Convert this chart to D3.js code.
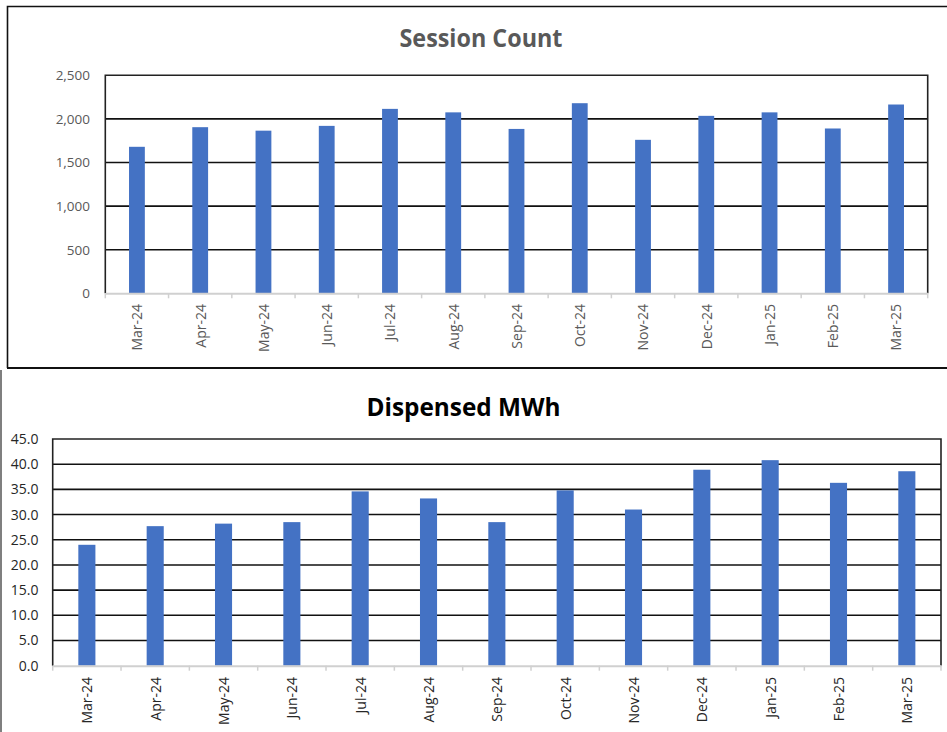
<!DOCTYPE html>
<html>
<head>
<meta charset="utf-8">
<script src="https://cdn.jsdelivr.net/npm/d3@7"></script>
<style>
  body { margin: 0; background: #fff; }
  svg { display: block; }
</style>
</head>
<body>
<svg id="chart" width="947" height="732"></svg>
<script>
// Monthly categories shared by both panels
const months = ["Mar-24", "Apr-24", "May-24", "Jun-24", "Jul-24", "Aug-24", "Sep-24",
                "Oct-24", "Nov-24", "Dec-24", "Jan-25", "Feb-25", "Mar-25"];

// Charging sessions per month
const sessionCounts = [1680, 1905, 1865, 1920, 2115, 2075, 1885, 2180, 1760, 2035, 2075, 1890, 2165];

// Energy dispensed per month (MWh)
const dispensedMWh = [24.0, 27.7, 28.2, 28.5, 34.6, 33.2, 28.5, 34.8, 31.0, 38.9, 40.8, 36.3, 38.6];

// Value-axis tick labels
const sessionTicks = [0, 500, 1000, 1500, 2000, 2500];
const mwhTicks = [0, 5, 10, 15, 20, 25, 30, 35, 40, 45];

const BAR_BLUE = "#4472C4";
const FONT = "'Open Sans', 'Noto Sans', sans-serif";

const svg = d3.select("#chart");

// Frames around the two panels
const frames = svg.append("g").attr("class", "frames");
frames.append("path")
  .attr("d", "M947,6.5 H7.5 V368")
  .attr("fill", "none").attr("stroke", "#111").attr("stroke-width", 1.6);
frames.append("line")
  .attr("x1", 7).attr("x2", 947).attr("y1", 368).attr("y2", 368)
  .attr("stroke", "#111").attr("stroke-width", 2.2);
frames.append("line")
  .attr("x1", 1).attr("x2", 1).attr("y1", 370).attr("y2", 732)
  .attr("stroke", "#7f7f7f").attr("stroke-width", 2);

function drawPanel(cfg) {
  const g = svg.append("g").attr("class", cfg.name);

  const x = d3.scaleBand()
    .domain(months)
    .range([cfg.left, cfg.right])
    .paddingInner(0).paddingOuter(0);

  const y = d3.scaleLinear()
    .domain([0, d3.max(cfg.ticks)])
    .range([cfg.bottom, cfg.top]);

  // Title
  g.append("text")
    .attr("x", cfg.titleX).attr("y", cfg.titleY)
    .attr("text-anchor", "middle")
    .attr("font-family", FONT)
    .attr("font-weight", 700)
    .attr("font-size", cfg.titleSize)
    .attr("fill", cfg.titleColor)
    .attr("textLength", cfg.titleWidth)
    .attr("lengthAdjust", "spacingAndGlyphs")
    .text(cfg.title);

  // Horizontal gridlines
  g.append("g").selectAll("line")
    .data(cfg.ticks.filter(t => t > 0 && t < d3.max(cfg.ticks)))
    .join("line")
      .attr("x1", cfg.left).attr("x2", cfg.right)
      .attr("y1", d => y(d)).attr("y2", d => y(d))
      .attr("stroke", "#111").attr("stroke-width", 1.6);

  // Bars
  const barW = x.bandwidth() * 0.25;
  g.append("g").selectAll("rect")
    .data(cfg.values)
    .join("rect")
      .attr("x", (d, i) => x(months[i]) + (x.bandwidth() - barW) / 2)
      .attr("y", d => y(d))
      .attr("width", barW)
      .attr("height", d => y(0) - y(d))
      .attr("fill", BAR_BLUE);

  // Plot frame: top and right borders, value axis line
  g.append("path")
    .attr("d", `M${cfg.left},${cfg.bottom} V${cfg.top} H${cfg.right} V${cfg.bottom}`)
    .attr("fill", "none").attr("stroke", "#222").attr("stroke-width", 1.6);

  // Category axis (light grey with dividing ticks)
  const xAxis = d3.axisBottom(x).tickSize(0).tickFormat("");
  const xg = g.append("g")
    .attr("transform", `translate(0,${cfg.bottom})`)
    .call(xAxis);
  xg.select(".domain").attr("stroke", "#d0d0d0").attr("stroke-width", 2);
  xg.selectAll(".tick").remove();
  const bounds = months.map(m => x(m)).concat([cfg.right]);
  xg.selectAll("line.div")
    .data(bounds)
    .join("line")
      .attr("class", "div")
      .attr("x1", d => d).attr("x2", d => d)
      .attr("y1", 0).attr("y2", 5)
      .attr("stroke", "#d0d0d0").attr("stroke-width", 1.5);

  // Rotated category labels
  g.append("g").selectAll("text")
    .data(months)
    .join("text")
      .attr("transform", d => `translate(${x(d) + x.bandwidth() / 2 + 0.5},${cfg.labelTop}) rotate(-90)`)
      .attr("text-anchor", "end")
      .attr("dy", "0.35em")
      .attr("font-family", FONT)
      .attr("font-size", cfg.xLabelSize)
      .attr("fill", cfg.labelColor)
      .text(d => d);

  // Value axis labels
  const yAxis = d3.axisLeft(y)
    .tickValues(cfg.ticks)
    .tickSize(0)
    .tickPadding(0)
    .tickFormat(cfg.format);
  const yg = g.append("g")
    .attr("transform", `translate(${cfg.yLabelRight},0)`)
    .call(yAxis);
  yg.select(".domain").remove();
  yg.selectAll("text")
    .attr("font-family", FONT)
    .attr("font-size", cfg.yLabelSize)
    .attr("fill", cfg.labelColor);
}

drawPanel({
  name: "sessions",
  title: "Session Count",
  titleX: 481, titleY: 46.5, titleSize: 25, titleWidth: 163, titleColor: "#595959",
  values: sessionCounts, ticks: sessionTicks,
  format: d3.format(","),
  left: 105.3, right: 927.7, top: 75.3, bottom: 293.3,
  labelTop: 304, labelColor: "#595959",
  xLabelSize: 14, yLabelSize: 13.5, yLabelRight: 90
});

drawPanel({
  name: "mwh",
  title: "Dispensed MWh",
  titleX: 463.5, titleY: 416, titleSize: 24.5, titleWidth: 194, titleColor: "#000",
  values: dispensedMWh, ticks: mwhTicks,
  format: d3.format(".1f"),
  left: 52.7, right: 941, top: 439, bottom: 665.7,
  labelTop: 677, labelColor: "#262626",
  xLabelSize: 14, yLabelSize: 14, yLabelRight: 38.5
});
</script>
</body>
</html>
